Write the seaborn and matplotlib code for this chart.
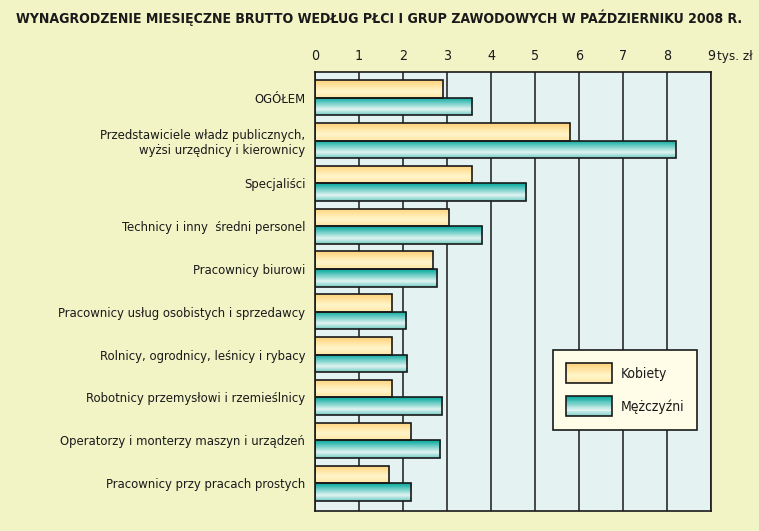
import numpy as np
import pandas as pd
import matplotlib
matplotlib.use("Agg")
import matplotlib.pyplot as plt
import seaborn as sns
from matplotlib.patches import Rectangle
from matplotlib.legend_handler import HandlerBase
from matplotlib.colors import LinearSegmentedColormap

categories = [
    "OGÓŁEM",
    "Przedstawiciele władz publicznych,\nwyżsi urzędnicy i kierownicy",
    "Specjaliści",
    "Technicy i inny  średni personel",
    "Pracownicy biurowi",
    "Pracownicy usług osobistych i sprzedawcy",
    "Rolnicy, ogrodnicy, leśnicy i rybacy",
    "Robotnicy przemysłowi i rzemieślnicy",
    "Operatorzy i monterzy maszyn i urządzeń",
    "Pracownicy przy pracach prostych",
]
kobiety = [2.91, 5.80, 3.57, 3.05, 2.69, 1.75, 1.75, 1.75, 2.19, 1.69]
mezczyzni = [3.57, 8.20, 4.80, 3.80, 2.78, 2.07, 2.10, 2.89, 2.85, 2.19]
series = ["Kobiety", "Mężczyźni"]
xticks = list(range(0, 10))
xticklabels = ["0", "1", "2", "3", "4", "5", "6", "7", "8", "9"]
unit = "tys. zł"
title = "WYNAGRODZENIE MIESIĘCZNE BRUTTO WEDŁUG PŁCI I GRUP ZAWODOWYCH W PAŹDZIERNIKU 2008 R."

df = pd.DataFrame({
    "grupa": categories * 2,
    "wartosc": kobiety + mezczyzni,
    "plec": [series[0]] * len(categories) + [series[1]] * len(categories),
})

sns.set_theme(style="white")
plt.rcParams["font.family"] = ["DejaVu Sans"]
plt.rcParams["font.stretch"] = "condensed"

TXT = "#1a1a1a"
BG = "#F2F4C6"
PLOT_BG = "#E4F3F2"
grad_k = LinearSegmentedColormap.from_list(
    "k", [(0, "#FFD27A"), (0.62, "#FFF6CA"), (1, "#FFE6A6")])
grad_m = LinearSegmentedColormap.from_list(
    "m", [(0, "#00A89C"), (0.68, "#E2F4F2"), (1, "#72CCC4")])

fig = plt.figure(figsize=(7.59, 5.31), dpi=100, facecolor=BG)
ax = fig.add_axes([0.415, 0.037, 0.522, 0.828])
ax.set_facecolor(PLOT_BG)

sns.barplot(data=df, y="grupa", x="wartosc", hue="plec", orient="h",
            palette=["#FFE4A0", "#5CC4BB"], width=0.82, edgecolor=TXT,
            linewidth=1.2, legend=False, ax=ax)

ax.set_xlim(0, 9)
grad = np.linspace(0, 1, 64).reshape(-1, 1)
for cont, cmap in zip(ax.containers, [grad_k, grad_m]):
    for p in cont:
        x0, y0, w, h = p.get_x(), p.get_y(), p.get_width(), p.get_height()
        im = ax.imshow(grad, cmap=cmap, extent=[x0, x0 + w, y0 + h, y0],
                       aspect="auto", zorder=2, interpolation="bilinear")
        im.set_clip_path(p)
        p.set_facecolor("none")
        p.set_zorder(3)
ax.set_ylim(9.66, -0.61)
ax.set_xlim(0, 9)

ax.set_axisbelow(True)
ax.xaxis.tick_top()
ax.set_xticks(xticks)
ax.set_xticklabels(xticklabels, fontsize=10.2, color=TXT)
ax.tick_params(axis="x", length=0, pad=6)
ax.tick_params(axis="y", length=0, pad=7, labelsize=9.4, labelcolor=TXT)
ax.grid(axis="x", color=TXT, linewidth=1.1)
ax.set_xlabel("")
ax.set_ylabel("")
for s in ax.spines.values():
    s.set_visible(True)
    s.set_color(TXT)
    s.set_linewidth(1.2)
for lbl in ax.get_yticklabels():
    lbl.set_horizontalalignment("right")
    lbl.set_multialignment("right")

ax.annotate(unit, xy=(9, 1), xycoords=("data", "axes fraction"),
            xytext=(4.3, 6), textcoords="offset points", ha="left", va="bottom",
            fontsize=9.6, color=TXT)

fig.text(0.5, 0.967, title, ha="center", va="center", fontsize=10.1,
         fontweight="bold", color=TXT)


class GradHandler(HandlerBase):
    def __init__(self, cmap):
        super().__init__()
        self.cmap = cmap

    def create_artists(self, legend, orig_handle, xdescent, ydescent, width,
                       height, fontsize, trans):
        arts = []
        n = 24
        for i in range(n):
            c = self.cmap(1 - (i + 0.5) / n)
            r = Rectangle((-xdescent, -ydescent + height * i / n), width,
                          height / n + 0.3, facecolor=c, edgecolor="none",
                          transform=trans)
            arts.append(r)
        arts.append(Rectangle((-xdescent, -ydescent), width, height,
                              facecolor="none", edgecolor=TXT,
                              linewidth=1.2, transform=trans))
        return arts


h1 = Rectangle((0, 0), 1, 1)
h2 = Rectangle((0, 0), 1, 1)
leg = ax.legend([h1, h2], series, loc="upper left",
                bbox_to_anchor=(0.601, 0.367), fontsize=10,
                handler_map={h1: GradHandler(grad_k), h2: GradHandler(grad_m)},
                handlelength=3.3, handleheight=1.84, handletextpad=0.6,
                labelspacing=0.95, borderpad=0.95, borderaxespad=0,
                fancybox=False, framealpha=1, facecolor="#FFFDE8",
                edgecolor=TXT)
leg.get_frame().set_linewidth(1.2)
leg.set_zorder(5)
for t in leg.get_texts():
    t.set_color(TXT)

fig.savefig("out.png", dpi=100, facecolor=BG)
